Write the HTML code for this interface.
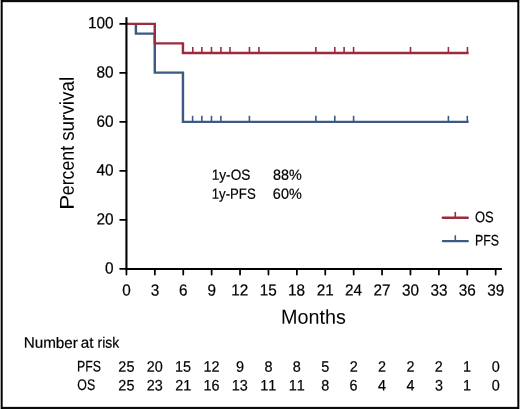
<!DOCTYPE html>
<html><head><meta charset="utf-8"><title>Kaplan-Meier survival curves</title><style>
html,body{margin:0;padding:0;background:#fff;width:520px;height:409px;overflow:hidden}
svg{display:block;will-change:transform}
text{font-family:"Liberation Sans", sans-serif;fill:#000;font-kerning:none;text-rendering:geometricPrecision;stroke:#000;stroke-width:0.2px}
text.b{stroke-width:0}
</style></head><body>
<svg width="520" height="409" viewBox="0 0 520 409">
<rect width="520" height="409" fill="#fff"/>
<rect x="1.5" y="0" width="517" height="2" fill="#0c0c0c"/>
<rect x="2.67" y="2" width="514.66" height="1" fill="#000" fill-opacity="0.17"/>
<rect x="1.5" y="407" width="517" height="2" fill="#0c0c0c"/>
<rect x="2.67" y="406" width="514.66" height="1" fill="#000" fill-opacity="0.12"/>
<rect x="0.67" y="0" width="2" height="409" fill="#000"/>
<rect x="517.33" y="0" width="2" height="409" fill="#000"/>
<path d="M135.9,23.88 V33.64 H154.78 V72.64 H182.95 V121.87 H468.62" fill="none" stroke="#3d5a82" stroke-width="2.45" stroke-linejoin="miter" stroke-linecap="butt"/>
<line x1="192.6" y1="115.82" x2="192.6" y2="121.87" stroke="#3d5a82" stroke-width="1.6"/>
<line x1="201.85" y1="115.82" x2="201.85" y2="121.87" stroke="#3d5a82" stroke-width="1.6"/>
<line x1="211.46" y1="115.82" x2="211.46" y2="121.87" stroke="#3d5a82" stroke-width="1.6"/>
<line x1="220.85" y1="115.82" x2="220.85" y2="121.87" stroke="#3d5a82" stroke-width="1.6"/>
<line x1="249.4" y1="115.82" x2="249.4" y2="121.87" stroke="#3d5a82" stroke-width="1.6"/>
<line x1="315.9" y1="115.82" x2="315.9" y2="121.87" stroke="#3d5a82" stroke-width="1.6"/>
<line x1="334.8" y1="115.82" x2="334.8" y2="121.87" stroke="#3d5a82" stroke-width="1.6"/>
<line x1="353.6" y1="115.82" x2="353.6" y2="121.87" stroke="#3d5a82" stroke-width="1.6"/>
<line x1="448.4" y1="115.82" x2="448.4" y2="121.87" stroke="#3d5a82" stroke-width="1.6"/>
<line x1="467.3" y1="115.82" x2="467.3" y2="121.87" stroke="#3d5a82" stroke-width="1.6"/>
<path d="M126.44,23.88 H154.78 V43.38 H182.95 V53.0 H467.4" fill="none" stroke="#9c2b3e" stroke-width="2.45" stroke-linejoin="miter" stroke-linecap="square"/>
<line x1="192.77" y1="46.95" x2="192.77" y2="53.0" stroke="#9c2b3e" stroke-width="1.6"/>
<line x1="201.85" y1="46.95" x2="201.85" y2="53.0" stroke="#9c2b3e" stroke-width="1.6"/>
<line x1="211.46" y1="46.95" x2="211.46" y2="53.0" stroke="#9c2b3e" stroke-width="1.6"/>
<line x1="220.92" y1="46.95" x2="220.92" y2="53.0" stroke="#9c2b3e" stroke-width="1.6"/>
<line x1="230.0" y1="46.95" x2="230.0" y2="53.0" stroke="#9c2b3e" stroke-width="1.6"/>
<line x1="249.46" y1="46.95" x2="249.46" y2="53.0" stroke="#9c2b3e" stroke-width="1.6"/>
<line x1="258.92" y1="46.95" x2="258.92" y2="53.0" stroke="#9c2b3e" stroke-width="1.6"/>
<line x1="315.85" y1="46.95" x2="315.85" y2="53.0" stroke="#9c2b3e" stroke-width="1.6"/>
<line x1="334.8" y1="46.95" x2="334.8" y2="53.0" stroke="#9c2b3e" stroke-width="1.6"/>
<line x1="344.1" y1="46.95" x2="344.1" y2="53.0" stroke="#9c2b3e" stroke-width="1.6"/>
<line x1="353.6" y1="46.95" x2="353.6" y2="53.0" stroke="#9c2b3e" stroke-width="1.6"/>
<line x1="410.5" y1="46.95" x2="410.5" y2="53.0" stroke="#9c2b3e" stroke-width="1.6"/>
<line x1="448.4" y1="46.95" x2="448.4" y2="53.0" stroke="#9c2b3e" stroke-width="1.6"/>
<line x1="467.44" y1="46.95" x2="467.44" y2="53.0" stroke="#9c2b3e" stroke-width="1.6"/>
<line x1="126.44" y1="17.2" x2="126.44" y2="270.1" stroke="#000" stroke-width="2.1"/>
<line x1="125.39" y1="269.1" x2="501.9" y2="269.1" stroke="#000" stroke-width="2"/>
<line x1="120.1" y1="268.80" x2="126.44" y2="268.80" stroke="#000" stroke-width="1.75" stroke-linecap="round"/>
<text transform="translate(105.04,273.55) scale(0.9500,1) skewY(0.05)" font-size="16.2">0</text>
<line x1="120.1" y1="219.82" x2="126.44" y2="219.82" stroke="#000" stroke-width="1.75" stroke-linecap="round"/>
<text transform="translate(96.48,224.45) scale(0.9500,1) skewY(0.05)" font-size="16.2">20</text>
<line x1="120.1" y1="170.84" x2="126.44" y2="170.84" stroke="#000" stroke-width="1.75" stroke-linecap="round"/>
<text transform="translate(96.48,175.40) scale(0.9500,1) skewY(0.05)" font-size="16.2">40</text>
<line x1="120.1" y1="121.86" x2="126.44" y2="121.86" stroke="#000" stroke-width="1.75" stroke-linecap="round"/>
<text transform="translate(96.48,126.70) scale(0.9500,1) skewY(0.05)" font-size="16.2">60</text>
<line x1="120.1" y1="72.88" x2="126.44" y2="72.88" stroke="#000" stroke-width="1.75" stroke-linecap="round"/>
<text transform="translate(96.48,77.60) scale(0.9500,1) skewY(0.05)" font-size="16.2">80</text>
<line x1="120.1" y1="23.90" x2="126.44" y2="23.90" stroke="#000" stroke-width="1.75" stroke-linecap="round"/>
<text transform="translate(87.92,28.35) scale(0.9500,1) skewY(0.05)" font-size="16.2">100</text>
<line x1="126.45" y1="269.1" x2="126.45" y2="274.6" stroke="#000" stroke-width="1.75" stroke-linecap="round"/>
<text transform="translate(122.20,295.45) scale(0.9500,1) skewY(0.05)" font-size="16.1">0</text>
<line x1="154.85" y1="269.1" x2="154.85" y2="274.6" stroke="#000" stroke-width="1.75" stroke-linecap="round"/>
<text transform="translate(150.64,295.45) scale(0.9500,1) skewY(0.05)" font-size="16.1">3</text>
<line x1="183.25" y1="269.1" x2="183.25" y2="274.6" stroke="#000" stroke-width="1.75" stroke-linecap="round"/>
<text transform="translate(178.95,295.45) scale(0.9500,1) skewY(0.05)" font-size="16.1">6</text>
<line x1="211.65" y1="269.1" x2="211.65" y2="274.6" stroke="#000" stroke-width="1.75" stroke-linecap="round"/>
<text transform="translate(207.40,295.45) scale(0.9500,1) skewY(0.05)" font-size="16.1">9</text>
<line x1="240.05" y1="269.1" x2="240.05" y2="274.6" stroke="#000" stroke-width="1.75" stroke-linecap="round"/>
<text transform="translate(231.35,295.45) scale(0.9500,1) skewY(0.05)" font-size="16.1">12</text>
<line x1="268.45" y1="269.1" x2="268.45" y2="274.6" stroke="#000" stroke-width="1.75" stroke-linecap="round"/>
<text transform="translate(259.69,295.45) scale(0.9500,1) skewY(0.05)" font-size="16.1">15</text>
<line x1="296.86" y1="269.1" x2="296.86" y2="274.6" stroke="#000" stroke-width="1.75" stroke-linecap="round"/>
<text transform="translate(288.10,295.45) scale(0.9500,1) skewY(0.05)" font-size="16.1">18</text>
<line x1="325.26" y1="269.1" x2="325.26" y2="274.6" stroke="#000" stroke-width="1.75" stroke-linecap="round"/>
<text transform="translate(316.74,295.45) scale(0.9500,1) skewY(0.05)" font-size="16.1">21</text>
<line x1="353.66" y1="269.1" x2="353.66" y2="274.6" stroke="#000" stroke-width="1.75" stroke-linecap="round"/>
<text transform="translate(344.99,295.45) scale(0.9500,1) skewY(0.05)" font-size="16.1">24</text>
<line x1="382.06" y1="269.1" x2="382.06" y2="274.6" stroke="#000" stroke-width="1.75" stroke-linecap="round"/>
<text transform="translate(373.55,295.45) scale(0.9500,1) skewY(0.05)" font-size="16.1">27</text>
<line x1="410.46" y1="269.1" x2="410.46" y2="274.6" stroke="#000" stroke-width="1.75" stroke-linecap="round"/>
<text transform="translate(401.96,295.45) scale(0.9500,1) skewY(0.05)" font-size="16.1">30</text>
<line x1="438.86" y1="269.1" x2="438.86" y2="274.6" stroke="#000" stroke-width="1.75" stroke-linecap="round"/>
<text transform="translate(430.40,295.45) scale(0.9500,1) skewY(0.05)" font-size="16.1">33</text>
<line x1="467.26" y1="269.1" x2="467.26" y2="274.6" stroke="#000" stroke-width="1.75" stroke-linecap="round"/>
<text transform="translate(458.80,295.45) scale(0.9500,1) skewY(0.05)" font-size="16.1">36</text>
<line x1="495.66" y1="269.1" x2="495.66" y2="274.6" stroke="#000" stroke-width="1.75" stroke-linecap="round"/>
<text transform="translate(487.23,295.45) scale(0.9500,1) skewY(0.05)" font-size="16.1">39</text>
<text transform="translate(211.66,179.70) scale(0.9370,1) skewY(0.05)" font-size="14.6">1y-OS</text>
<text transform="translate(272.98,179.70) scale(0.9834,1) skewY(0.05)" font-size="14.6">88%</text>
<text transform="translate(211.69,198.70) scale(0.9042,1) skewY(0.05)" font-size="14.6">1y-PFS</text>
<text transform="translate(272.87,198.70) scale(0.9871,1) skewY(0.05)" font-size="14.6">60%</text>
<line x1="442.8" y1="217.8" x2="467.7" y2="217.8" stroke="#9c2b3e" stroke-width="2.45" stroke-linecap="round"/>
<line x1="455.3" y1="211.9" x2="455.3" y2="217.8" stroke="#9c2b3e" stroke-width="1.6"/>
<line x1="443.0" y1="241.1" x2="467.7" y2="241.1" stroke="#3d5a82" stroke-width="2.45" stroke-linecap="round"/>
<line x1="455.3" y1="235.25" x2="455.3" y2="241.1" stroke="#3d5a82" stroke-width="1.6"/>
<text transform="translate(474.89,222.35) scale(0.8463,1) skewY(0.05)" font-size="15.3">OS</text>
<text transform="translate(474.99,245.60) scale(0.8058,1) skewY(0.05)" font-size="15.3">PFS</text>
<text class="b" transform="translate(280.98,323.65) scale(0.9788,1) skewY(0.05)" font-size="20.2">Months</text>
<text class="b" transform="translate(73.8,209.63) rotate(-90) scale(1.1179,1) skewY(0.05)" font-size="20">P</text>
<text class="b" transform="translate(73.8,195.15) rotate(-90) scale(0.8866,1) skewY(0.05)" font-size="20">ercent</text>
<text class="b" transform="translate(73.8,140.83) rotate(-90) scale(0.9439,1) skewY(0.05)" font-size="20">survival</text>
<text transform="translate(23.65,347.85) scale(1.0045,1) skewY(0.05)" font-size="15.2">Number</text>
<text transform="translate(80.85,347.85) scale(1.0068,1) skewY(0.05)" font-size="15.2">at</text>
<text transform="translate(97.57,347.85) scale(0.9183,1) skewY(0.05)" font-size="15.2">risk</text>
<text transform="translate(77.09,371.50) scale(0.8006,1) skewY(0.05)" font-size="15.4">PFS</text>
<text transform="translate(77.31,390.00) scale(0.8023,1) skewY(0.05)" font-size="15.4">OS</text>
<text transform="translate(118.36,371.70) scale(0.9500,1) skewY(0.05)" font-size="15.2">25</text>
<text transform="translate(118.36,390.40) scale(0.9500,1) skewY(0.05)" font-size="15.2">25</text>
<text transform="translate(146.74,371.70) scale(0.9500,1) skewY(0.05)" font-size="15.2">20</text>
<text transform="translate(146.77,390.40) scale(0.9500,1) skewY(0.05)" font-size="15.2">23</text>
<text transform="translate(174.97,371.70) scale(0.9500,1) skewY(0.05)" font-size="15.2">15</text>
<text transform="translate(175.21,390.40) scale(0.9500,1) skewY(0.05)" font-size="15.2">21</text>
<text transform="translate(203.44,371.70) scale(0.9500,1) skewY(0.05)" font-size="15.2">12</text>
<text transform="translate(203.39,390.40) scale(0.9500,1) skewY(0.05)" font-size="15.2">16</text>
<text transform="translate(236.04,371.70) scale(0.9500,1) skewY(0.05)" font-size="15.2">9</text>
<text transform="translate(231.79,390.40) scale(0.9500,1) skewY(0.05)" font-size="15.2">13</text>
<text transform="translate(264.44,371.70) scale(0.9500,1) skewY(0.05)" font-size="15.2">8</text>
<text transform="translate(260.23,390.40) scale(0.9500,1) skewY(0.05)" font-size="15.2">11</text>
<text transform="translate(292.84,371.70) scale(0.9500,1) skewY(0.05)" font-size="15.2">8</text>
<text transform="translate(288.63,390.40) scale(0.9500,1) skewY(0.05)" font-size="15.2">11</text>
<text transform="translate(321.26,371.70) scale(0.9500,1) skewY(0.05)" font-size="15.2">5</text>
<text transform="translate(321.24,390.40) scale(0.9500,1) skewY(0.05)" font-size="15.2">8</text>
<text transform="translate(349.64,371.70) scale(0.9500,1) skewY(0.05)" font-size="15.2">2</text>
<text transform="translate(349.59,390.40) scale(0.9500,1) skewY(0.05)" font-size="15.2">6</text>
<text transform="translate(378.04,371.70) scale(0.9500,1) skewY(0.05)" font-size="15.2">2</text>
<text transform="translate(378.09,390.40) scale(0.9500,1) skewY(0.05)" font-size="15.2">4</text>
<text transform="translate(406.44,371.70) scale(0.9500,1) skewY(0.05)" font-size="15.2">2</text>
<text transform="translate(406.49,390.40) scale(0.9500,1) skewY(0.05)" font-size="15.2">4</text>
<text transform="translate(434.85,371.70) scale(0.9500,1) skewY(0.05)" font-size="15.2">2</text>
<text transform="translate(434.89,390.40) scale(0.9500,1) skewY(0.05)" font-size="15.2">3</text>
<text transform="translate(463.05,371.70) scale(0.9500,1) skewY(0.05)" font-size="15.2">1</text>
<text transform="translate(463.05,390.40) scale(0.9500,1) skewY(0.05)" font-size="15.2">1</text>
<text transform="translate(491.65,371.70) scale(0.9500,1) skewY(0.05)" font-size="15.2">0</text>
<text transform="translate(491.65,390.40) scale(0.9500,1) skewY(0.05)" font-size="15.2">0</text>
</svg>
</body></html>
